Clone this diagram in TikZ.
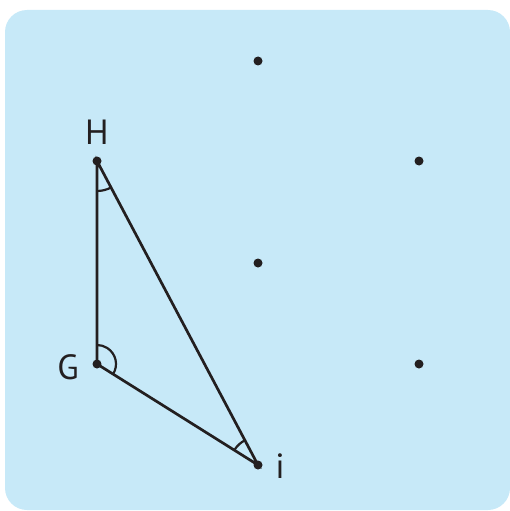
\documentclass[tikz,border=0pt]{standalone}
\usepackage{fontspec}
\setmainfont{PT Sans}
\usetikzlibrary{angles}
\definecolor{bgblue}{HTML}{C7E9F8}
\definecolor{ink}{HTML}{231F20}
\begin{document}
\begin{tikzpicture}[x=1pt,y=-1pt,
  dot/.style={circle,fill=ink,inner sep=0pt,minimum size=9pt},
  seg/.style={draw=ink,line width=2.7pt},
  lab/.style={text=ink,font=\fontsize{35}{35}\selectfont,inner sep=0pt},
  ang/.style={draw=ink,line width=2.2pt}]
\useasboundingbox (0,0) rectangle (510,511);
\fill[bgblue,rounded corners=22pt] (5,10) rectangle (510,510);
\node[dot] (t) at (258,61) {};
\node[dot] (H) at (97,161) {};
\node[dot] (r1) at (419,161) {};
\node[dot] (m) at (258,263) {};
\node[dot] (G) at (97,364) {};
\node[dot] (r2) at (419,364) {};
\node[dot] (I) at (258,465) {};
\draw[seg] (H.center) -- (G.center) -- (I.center) -- cycle;
\pic[ang,angle radius=30pt] {angle=G--H--I};
\pic[ang,angle radius=19pt] {angle=I--G--H};
\pic[ang,angle radius=28pt] {angle=H--I--G};
\node[lab] (Hl) at (97,132) {H};
\node[lab] (Gl) at (68,367) {G};
\node[lab] (Il) at (280,466) {i};
\end{tikzpicture}
\end{document}
